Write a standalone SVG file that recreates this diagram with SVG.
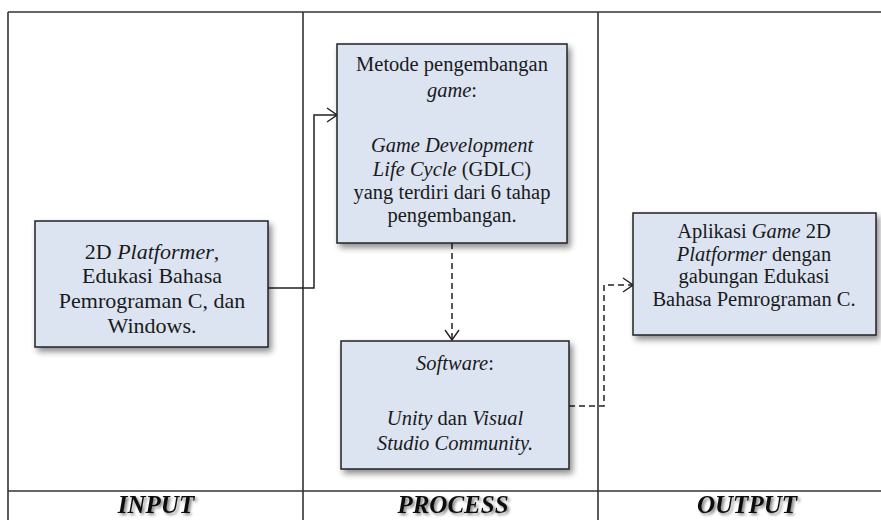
<svg xmlns="http://www.w3.org/2000/svg" width="881" height="520" viewBox="0 0 881 520">
<defs>
<filter id="sh" x="-10%" y="-10%" width="130%" height="130%">
<feGaussianBlur in="SourceAlpha" stdDeviation="3"/>
<feOffset dx="3" dy="4" result="b"/>
<feComponentTransfer><feFuncA type="linear" slope="0.45"/></feComponentTransfer>
<feMerge><feMergeNode/><feMergeNode in="SourceGraphic"/></feMerge>
</filter>
<filter id="tsh" x="-10%" y="-30%" width="130%" height="170%">
<feGaussianBlur in="SourceAlpha" stdDeviation="1.5"/>
<feOffset dx="2" dy="2"/>
<feComponentTransfer><feFuncA type="linear" slope="0.5"/></feComponentTransfer>
<feMerge><feMergeNode/><feMergeNode in="SourceGraphic"/></feMerge>
</filter>
<marker id="arr" viewBox="0 0 12 16" refX="11" refY="8" markerWidth="12" markerHeight="16" markerUnits="userSpaceOnUse" orient="auto">
<path d="M1,1 L11,8 L1,15" fill="none" stroke="#222" stroke-width="1.4"/>
</marker>
</defs>
<style>
.frame{stroke:#333;stroke-width:1.6;fill:none}
.box{fill:#dce4f2;stroke:#222;stroke-width:1.5;filter:url(#sh)}
.t{font-family:"Liberation Serif","Times New Roman",serif;font-size:20.5px;fill:#1a1a1a;text-anchor:middle}
.ti{font-style:italic}
.big{font-size:22px}
.lab{font-family:"Liberation Serif","Times New Roman",serif;font-size:25px;font-weight:bold;font-style:italic;fill:#111;text-anchor:middle;filter:url(#tsh)}
.con{fill:none;stroke:#222;stroke-width:1.5}
.dash{stroke-dasharray:6 4}
</style>
<rect width="881" height="520" fill="#fff"/>
<g id="frame">
<line class="frame" x1="8" y1="12" x2="881" y2="12"/>
<line class="frame" x1="8" y1="12" x2="8" y2="520"/>
<line class="frame" x1="303" y1="12" x2="303" y2="520"/>
<line class="frame" x1="598" y1="12" x2="598" y2="520"/>
<line class="frame" x1="8" y1="491" x2="881" y2="491"/>
</g>
<g id="labels">
<text class="lab" x="156" y="513">INPUT</text>
<text class="lab" x="453" y="513">PROCESS</text>
<text class="lab" x="747" y="513">OUTPUT</text>
</g>
<g id="connectors">
<path class="con" d="M268,288 H314 V115 H337" marker-end="url(#arr)"/>
<path class="con dash" d="M452,243 V340" marker-end="url(#arr)"/>
<path class="con dash" d="M569,406 H604 V285 H633" marker-end="url(#arr)"/>
</g>
<g id="input">
<rect class="box" x="35" y="221" width="233" height="126"/>
<text class="t big" x="152" y="259">2D <tspan class="ti">Platformer</tspan>,</text>
<text class="t big" x="152" y="283">Edukasi Bahasa</text>
<text class="t big" x="152" y="308">Pemrograman C, dan</text>
<text class="t big" x="152" y="333">Windows.</text>
</g>
<g id="method">
<rect class="box" x="337" y="44" width="230" height="199"/>
<text class="t" x="452" y="71">Metode pengembangan</text>
<text class="t ti" x="452" y="97">game<tspan font-style="normal">:</tspan></text>
<text class="t ti" x="452" y="152">Game Development</text>
<text class="t" x="452" y="176"><tspan class="ti">Life Cycle</tspan> (GDLC)</text>
<text class="t" x="452" y="199">yang terdiri dari 6 tahap</text>
<text class="t" x="452" y="222">pengembangan.</text>
</g>
<g id="software">
<rect class="box" x="341" y="341" width="228" height="128"/>
<text class="t ti" x="455" y="370">Software<tspan font-style="normal">:</tspan></text>
<text class="t" x="455" y="425"><tspan class="ti">Unity</tspan> dan <tspan class="ti">Visual</tspan></text>
<text class="t ti" x="455" y="450">Studio Community.</text>
</g>
<g id="output">
<rect class="box" x="633" y="213" width="243" height="122"/>
<text class="t" x="754" y="238">Aplikasi <tspan class="ti">Game</tspan> 2D</text>
<text class="t" x="754" y="261"><tspan class="ti">Platformer</tspan> dengan</text>
<text class="t" x="754" y="283">gabungan Edukasi</text>
<text class="t" x="754" y="306">Bahasa Pemrograman C.</text>
</g>
</svg>
